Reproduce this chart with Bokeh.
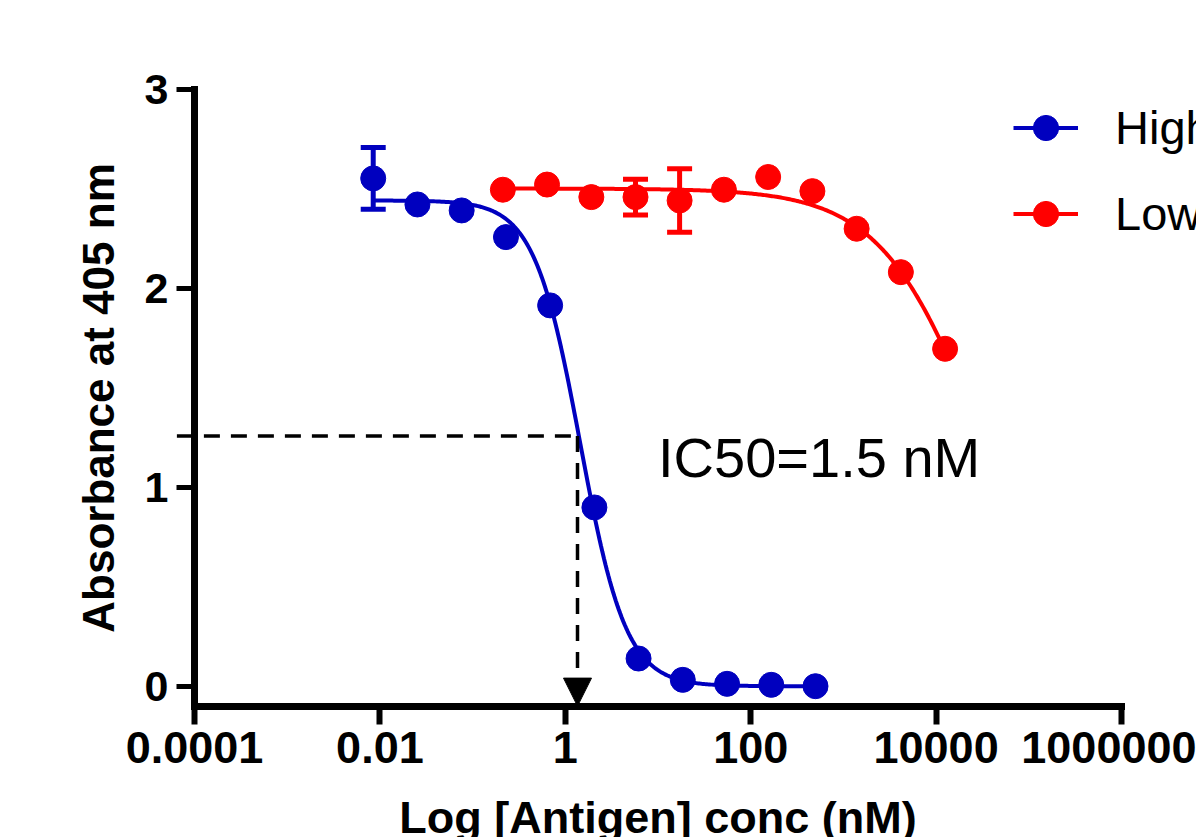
import numpy as np
from bokeh.plotting import figure
from bokeh.models import (ColumnDataSource, Whisker, TeeHead, Arrow, NormalHead,
                          Legend, LegendItem, FixedTicker, Label, Range1d,
                          CustomJSTickFormatter)
from bokeh.embed import file_html
from bokeh.resources import INLINE

# ---------------- data ----------------
high_conc = [0.00847, 0.0254, 0.0762, 0.229, 0.686, 2.06, 6.17, 18.5, 55.6, 166.7, 500.0]
high_abs = [2.551, 2.420, 2.390, 2.256, 1.913, 0.898, 0.139, 0.032, 0.012, 0.007, 0.000]
high_err = [0.155, 0, 0, 0, 0, 0, 0, 0, 0, 0, 0]

low_conc = [0.212, 0.635, 1.91, 5.72, 17.1, 51.4, 154.3, 463.0, 1389.0, 4167.0, 12500.0]
low_abs = [2.494, 2.520, 2.457, 2.457, 2.440, 2.494, 2.558, 2.487, 2.298, 2.080, 1.695]
low_err = [0, 0, 0, 0.09, 0.16, 0, 0, 0, 0, 0, 0]

# four-parameter logistic fit parameters (top, bottom, IC50, hill)
high_fit = [2.44, 0.0, 1.45, 1.75]
low_fit = [2.50, 0.0, 31000.0, 0.8]

# IC50 guide (concentration, absorbance)
ic50_guide = [1.354, 1.257]
ic50_text = "IC50=1.5 nM"

series_names = ["High affinity", "Low affinity"]
x_ticks = [1e-4, 1e-2, 1.0, 1e2, 1e4, 1e6]
x_tick_labels = ["0.0001", "0.01", "1", "100", "10000", "1000000"]
y_ticks = [0, 1, 2, 3]
x_label = "Log [Antigen] conc (nM)"
y_label = "Absorbance at 405 nm"

BLUE = "#0000BF"
RED = "#FF0000"
FONT = "Liberation Sans"


def fourpl(x, top, bottom, ic50, hill):
    return bottom + (top - bottom) / (1.0 + (x / ic50) ** hill)


# The plotting frame fills the whole canvas; the axes are pinned at the
# data origin (x = 1e-4, y = -0.1) and bounded to the labelled span.
p = figure(width=1196, height=837, x_axis_type="log", title=None,
           x_range=Range1d(10 ** -6.0928, 10 ** 6.809),
           y_range=Range1d(-0.760, 3.4446),
           output_backend="svg", toolbar_location=None, min_border=0)
p.grid.visible = False
p.outline_line_color = None
p.background_fill_color = "white"
p.border_fill_color = "white"

for ax in (p.xaxis[0], p.yaxis[0]):
    ax.axis_line_width = 7
    ax.axis_line_cap = "square"
    ax.major_tick_out = 18
    ax.major_tick_in = 0
    ax.minor_tick_line_color = None
    ax.major_label_text_font = FONT
    ax.major_label_text_font_style = "bold"
    ax.major_label_text_color = "black"
    ax.axis_line_color = "black"
    ax.major_tick_line_color = "black"
    ax.axis_label_text_font = FONT
    ax.axis_label_text_font_style = "bold"
    ax.axis_label_text_color = "black"

p.xaxis.fixed_location = -0.1
p.xaxis.bounds = (x_ticks[0], x_ticks[-1])
p.xaxis.ticker = FixedTicker(ticks=x_ticks)
p.xaxis.formatter = CustomJSTickFormatter(args=dict(labels=x_tick_labels),
                                          code="return labels[index];")
p.xaxis.major_tick_line_width = 6
p.xaxis.major_label_text_font_size = "45px"
p.xaxis.major_label_standoff = 8
p.xaxis.axis_label = x_label
p.xaxis.axis_label_text_font_size = "45px"
p.xaxis.axis_label_standoff = 25

p.yaxis.fixed_location = x_ticks[0]
p.yaxis.bounds = (-0.1, y_ticks[-1])
p.yaxis.ticker = FixedTicker(ticks=y_ticks)
p.yaxis.major_tick_line_width = 5
p.yaxis.major_label_text_font_size = "43px"
p.yaxis.major_label_standoff = 8
p.yaxis.axis_label = y_label
p.yaxis.axis_label_text_font_size = "44px"
p.yaxis.axis_label_standoff = 19

# fitted curves
hx = np.logspace(np.log10(min(high_conc)), np.log10(max(high_conc)), 300)
lx = np.logspace(np.log10(min(low_conc)), np.log10(max(low_conc)), 300)
hl = p.line(hx, fourpl(hx, *high_fit), line_width=4, line_color=BLUE)
ll = p.line(lx, fourpl(lx, *low_fit), line_width=4, line_color=RED)

# error bars
for conc, ab, err, col in ((high_conc, high_abs, high_err, BLUE),
                           (low_conc, low_abs, low_err, RED)):
    xs = [c for c, e in zip(conc, err) if e > 0]
    up = [a + e for a, e in zip(ab, err) if e > 0]
    lo = [a - e for a, e in zip(ab, err) if e > 0]
    src = ColumnDataSource(dict(x=xs, upper=up, lower=lo))
    w = Whisker(base="x", upper="upper", lower="lower", source=src,
                dimension="height", line_color=col, line_width=5,
                upper_head=TeeHead(size=25, line_width=5, line_color=col),
                lower_head=TeeHead(size=25, line_width=5, line_color=col))
    p.add_layout(w)

hs = p.scatter(high_conc, high_abs, size=25, marker="circle",
               fill_color=BLUE, line_color=BLUE)
ls = p.scatter(low_conc, low_abs, size=25, marker="circle",
               fill_color=RED, line_color=RED)

# IC50 guide lines
p.add_layout(Arrow(x_start=10 ** -4.19, y_start=ic50_guide[1],
                   x_end=ic50_guide[0], y_end=ic50_guide[1], end=None,
                   line_color="black", line_width=3.5, line_dash="16 11"))
p.add_layout(Arrow(x_start=ic50_guide[0], y_start=ic50_guide[1],
                   x_end=ic50_guide[0], y_end=-0.1,
                   end=NormalHead(size=28, fill_color="black", line_color="black",
                                  line_width=1),
                   line_color="black", line_width=3.5, line_dash="16 11"))

p.add_layout(Label(x=10.0, y=1.148, text=ic50_text, text_font=FONT,
                   text_font_size="56px", text_color="black",
                   text_baseline="alphabetic", text_align="left"))

legend = Legend(items=[LegendItem(label=series_names[0], renderers=[hl, hs]),
                       LegendItem(label=series_names[1], renderers=[ll, ls])],
                location=(1013, 592), glyph_width=65, glyph_height=63,
                spacing=23, padding=0, margin=0, label_standoff=37,
                label_text_font=FONT, label_text_font_size="47px",
                label_text_color="black",
                border_line_color=None, background_fill_alpha=0)
p.add_layout(legend)

open("out.html", "w").write(file_html(p, INLINE))
